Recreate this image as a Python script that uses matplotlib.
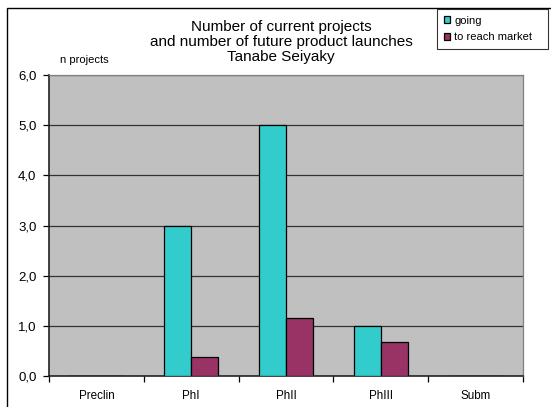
import numpy as np
import matplotlib
matplotlib.use("Agg")
import matplotlib.pyplot as plt
from matplotlib.patches import Rectangle

plt.rcParams['font.family'] = ['Liberation Sans', 'DejaVu Sans']

categories = ["Preclin", "PhI", "PhII", "PhIII", "Subm"]
going = [0, 3.0, 5.0, 1.0, 0]
to_reach_market = [0, 0.38, 1.15, 0.68, 0]
yticks = [0, 1, 2, 3, 4, 5, 6]

W, H = 551, 407
fig = plt.figure(figsize=(W / 100, H / 100), dpi=100)

# outer chart frame (right/bottom run off the picture)
fig.patches.append(Rectangle((7 / W, -0.05), 1.1, 1 - 8 / H + 0.05, transform=fig.transFigure,
                             fill=False, edgecolor='black', linewidth=1.0))

ax = fig.add_axes([49 / W, 31 / H, 474 / W, 301 / H])
ax.set_facecolor('#C0C0C0')

x = np.arange(len(categories))
bw = 1 / 3.5
ax.bar(x - bw / 2, going, bw, color='#33CCCC', edgecolor='black', linewidth=0.9, label='going', zorder=3)
ax.bar(x + bw / 2, to_reach_market, bw, color='#993366', edgecolor='black', linewidth=0.9,
       label='to reach market', zorder=3)

ax.set_xlim(-0.5, len(categories) - 0.5)
ax.set_ylim(0, 6)
ax.set_yticks(yticks)
ax.set_yticklabels([f"{v:.1f}".replace('.', ',') for v in yticks], fontsize=9.5)
for v in yticks[1:]:
    ax.axhline(v, color='#333333', linewidth=0.9, zorder=1)

ax.set_xticks(np.arange(len(categories) + 1) - 0.5)
ax.set_xticklabels([])
ax.set_xticks(x, minor=True)
ax.set_xticklabels(categories, minor=True, fontsize=8.4)
ax.tick_params(axis='x', which='minor', length=0, pad=10)
ax.tick_params(axis='x', which='major', length=4, width=0.9, direction='out')
ax.tick_params(axis='y', length=4, width=0.9, direction='out', pad=5)

for s in ['top', 'right']:
    ax.spines[s].set_color('#808080')
    ax.spines[s].set_linewidth(0.9)
for s in ['left', 'bottom']:
    ax.spines[s].set_color('#222222')
    ax.spines[s].set_linewidth(1.2)

fig.text(281 / W, 1 - 42 / H, "Number of current projects\nand number of future product launches\nTanabe Seiyaky",
         ha='center', va='center', fontsize=11, linespacing=1.1)
fig.text(60 / W, 1 - 60 / H, "n projects", ha='left', va='center', fontsize=8)

leg = fig.legend(loc='upper left', bbox_to_anchor=(437 / W, 1 - 9 / H, 111 / W, 0), mode='expand',
                 fontsize=8, frameon=True, fancybox=False, edgecolor='black',
                 handlelength=0.6, handleheight=0.6, handletextpad=0.35,
                 borderpad=0.6, labelspacing=0.6, borderaxespad=0)
leg.get_frame().set_linewidth(0.8)

fig.savefig("out.png", dpi=100)
